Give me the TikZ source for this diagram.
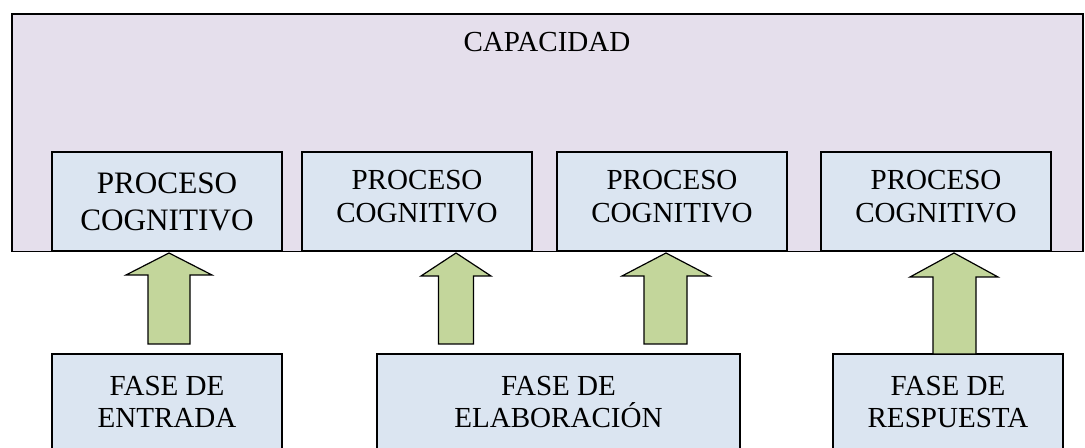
\documentclass[tikz,border=0pt]{standalone}
\usepackage{fontspec}
\setmainfont{Liberation Serif}
\definecolor{lav}{HTML}{E5DFEC}
\definecolor{boxblue}{HTML}{DBE5F1}
\definecolor{arrgreen}{HTML}{C3D69B}
\begin{document}
\begin{tikzpicture}[x=0.75pt,y=-0.75pt,
  outerbox/.style={draw=black, line width=1.1pt, fill=lav, inner sep=0pt, outer sep=0pt},
  procbox/.style={draw=black, line width=1.1pt, fill=boxblue, inner sep=0pt, outer sep=0pt, align=center,
    minimum width={230*0.75pt}, minimum height={99*0.75pt}, font={\fontsize{21.8pt}{24.5pt}\selectfont}, text depth=7.5pt},
  fasebox/.style={draw=black, line width=1.1pt, fill=boxblue, inner sep=0pt, outer sep=0pt, align=center,
    minimum height={96*0.75pt}, font={\fontsize{21.8pt}{24.5pt}\selectfont}},
  blockarrow/.style={draw=black, line width=0.9pt, fill=arrgreen, line join=miter}]
\useasboundingbox (0,0) rectangle (1085,448);
\clip (0,0) rectangle (1085,448);
% outer capacity box
\node[outerbox, minimum width={1071*0.75pt}, minimum height={237.5*0.75pt}] (cap) at (547.5,132.75) {};
\node[anchor=base, inner sep=0pt, font={\fontsize{21.8pt}{24.5pt}\selectfont}] (captxt) at (547,51.7) {CAPACIDAD};
% process boxes
\node[procbox, font={\fontsize{23.4pt}{27.75pt}\selectfont}, text depth=0pt] (p1) at (167,201.5) {PROCESO\\COGNITIVO};
\node[procbox] (p2) at (417,201.5) {PROCESO\\COGNITIVO};
\node[procbox] (p3) at (672,201.5) {PROCESO\\COGNITIVO};
\node[procbox] (p4) at (936,201.5) {PROCESO\\COGNITIVO};
% phase boxes
\node[fasebox, minimum width={230*0.75pt}] (f1) at (167,402) {FASE DE\\ENTRADA};
\node[fasebox, minimum width={363*0.75pt}] (f2) at (558.5,402) {FASE DE\\ELABORACIÓN};
\node[fasebox, minimum width={230*0.75pt}] (f3) at (948,402) {FASE DE\\RESPUESTA};
% block arrows
\draw[blockarrow] (169,253) -- (212,275) -- (190,275) -- (190,344) -- (148,344) -- (148,275) -- (126,275) -- cycle;
\draw[blockarrow] (456,253) -- (491,276) -- (473.5,276) -- (473.5,344) -- (438.5,344) -- (438.5,276) -- (421,276) -- cycle;
\draw[blockarrow] (666,253) -- (710,276) -- (687,276) -- (687,344) -- (644,344) -- (644,276) -- (622,276) -- cycle;
\draw[blockarrow] (954,253) -- (998,277) -- (976,277) -- (976,354) -- (933,354) -- (933,277) -- (910,277) -- cycle;
\end{tikzpicture}
\end{document}
